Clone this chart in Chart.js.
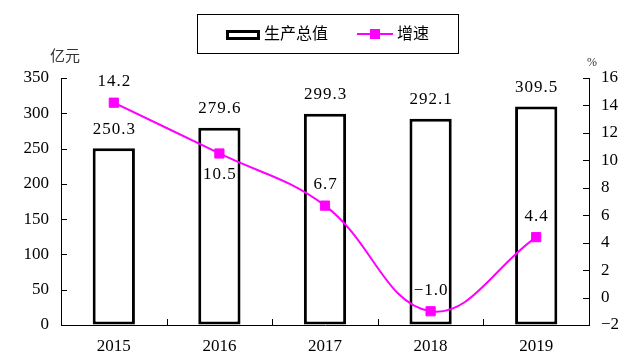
<!DOCTYPE html>
<html>
<head>
<meta charset="utf-8">
<script src="https://cdn.jsdelivr.net/npm/chart.js@4"></script>
<style>
	body { margin: 0; background: #fff; }
	#wrap { width: 632px; height: 359px; position: relative; }
</style>
</head>
<body>
<div id="wrap"><canvas id="myChart"></canvas></div>
<script>
const years = ["2015", "2016", "2017", "2018", "2019"]
const output = [250.3, 279.6, 299.3, 292.1, 309.5]   // 生产总值, 亿元
const growth = [14.2, 10.5, 6.7, -1.0, 4.4]          // 增速, %
const growthLabelSide = ["above", "below", "above", "above", "above"]

const MAGENTA = "#ff00ff"
const SERIF = "'Liberation Serif', 'Noto Sans CJK SC', serif"
const CJK = "'Noto Sans CJK SC', sans-serif"

Chart.defaults.font.family = SERIF
Chart.defaults.color = "#000"

const minus = s => String(s).replace("-", "−")

// подписи значений над столбцами и у точек
const valueLabels = {
	id: "valueLabels",
	afterDatasetsDraw(chart) {
		const ctx = chart.ctx
		ctx.save()
		ctx.font = "17px " + SERIF
		ctx.letterSpacing = "1px"
		ctx.fillStyle = "#000"
		ctx.textAlign = "center"
		ctx.textBaseline = "middle"
		chart.getDatasetMeta(0).data.forEach((el, i) => {
			ctx.fillText(output[i].toFixed(1), el.x + 0.5, el.y - 19)
		})
		chart.getDatasetMeta(1).data.forEach((el, i) => {
			const dy = growthLabelSide[i] === "below" ? 21 : -21
			ctx.fillText(minus(growth[i].toFixed(1)), el.x + 0.5, el.y + dy)
		})
		ctx.restore()
	}
}

// засечки внутрь, легенда в рамке, единицы осей
const decor = {
	id: "decor",
	afterDraw(chart) {
		const ctx = chart.ctx
		const {x, y, y1} = chart.scales
		const area = chart.chartArea
		ctx.save()
		ctx.strokeStyle = "#000"
		ctx.lineWidth = 1
		ctx.beginPath()
		y.ticks.forEach(t => {
			const py = Math.round(y.getPixelForValue(t.value)) + 0.5
			ctx.moveTo(area.left, py); ctx.lineTo(area.left + 6, py)
		})
		y1.ticks.forEach(t => {
			const py = Math.round(y1.getPixelForValue(t.value)) + 0.5
			ctx.moveTo(area.right, py); ctx.lineTo(area.right - 6, py)
		})
		const half = (x.getPixelForValue(1) - x.getPixelForValue(0)) / 2
		for (let i = 1; i < years.length; i++) {
			const px = Math.round(x.getPixelForValue(i) - half) + 0.5
			ctx.moveTo(px, area.bottom); ctx.lineTo(px, area.bottom - 6)
		}
		ctx.stroke()

		// legend
		ctx.strokeRect(197.5, 14.5, 261, 39)
		ctx.lineWidth = 3
		ctx.strokeRect(227.5, 31.5, 31, 7)
		ctx.strokeStyle = MAGENTA
		ctx.lineWidth = 2
		ctx.beginPath()
		ctx.moveTo(357, 34); ctx.lineTo(393, 34)
		ctx.stroke()
		ctx.fillStyle = MAGENTA
		ctx.fillRect(370, 29, 10, 10)

		ctx.fillStyle = "#000"
		ctx.textBaseline = "middle"
		ctx.font = "16px " + CJK
		ctx.fillText(chart.data.datasets[0].label, 264, 33)
		ctx.fillText(chart.data.datasets[1].label, 397, 33)

		ctx.fillStyle = "#333"
		ctx.textAlign = "center"
		ctx.font = "15px " + CJK
		ctx.fillText("亿元", 65, 55)
		ctx.font = "12px " + SERIF
		ctx.fillText("%", 592, 63)
		ctx.restore()
	}
}

new Chart("myChart", {
	type: "bar",
	data: {
		labels: years,
		datasets: [
			{
				label: "生产总值",
				data: output,
				yAxisID: "y",
				order: 1,
				backgroundColor: "#fff",
				borderColor: "#000",
				borderWidth: 3,
				borderSkipped: false,
				categoryPercentage: 1,
				barPercentage: 0.4
			},
			{
				type: "line",
				label: "增速",
				data: growth,
				yAxisID: "y1",
				order: 0,
				borderColor: MAGENTA,
				borderWidth: 2,
				tension: 0.4,
				fill: false,
				pointStyle: "rect",
				pointRadius: 6.5,
				pointBackgroundColor: MAGENTA,
				pointBorderColor: MAGENTA,
				pointBorderWidth: 1
			}
		]
	},
	options: {
		responsive: true,
		maintainAspectRatio: false,
		animation: false,
		layout: { padding: { top: 78, left: 0, right: 0, bottom: 0 } },
		plugins: {
			legend: { display: false },
			tooltip: { enabled: false }
		},
		scales: {
			x: {
				offset: true,
				afterFit: s => { s.height = 34 },
				grid: { display: true, drawOnChartArea: false, drawTicks: false },
				border: { display: true, color: "#000", width: 1 },
				ticks: { padding: 11, font: { size: 17 }, color: "#000" }
			},
			y: {
				position: "left",
				min: 0,
				max: 350,
				afterFit: s => { s.width = 61 },
				grid: { display: true, drawOnChartArea: false, drawTicks: false },
				border: { display: true, color: "#000", width: 1 },
				ticks: { stepSize: 50, padding: 12, font: { size: 17 }, color: "#000" }
			},
			y1: {
				position: "right",
				min: -2,
				max: 16,
				afterFit: s => { s.width = 43 },
				grid: { display: true, drawOnChartArea: false, drawTicks: false },
				border: { display: true, color: "#000", width: 1 },
				ticks: { stepSize: 2, padding: 12, font: { size: 17 }, color: "#000", callback: v => minus(v) }
			}
		}
	},
	plugins: [valueLabels, decor]
})
</script>
</body>
</html>
